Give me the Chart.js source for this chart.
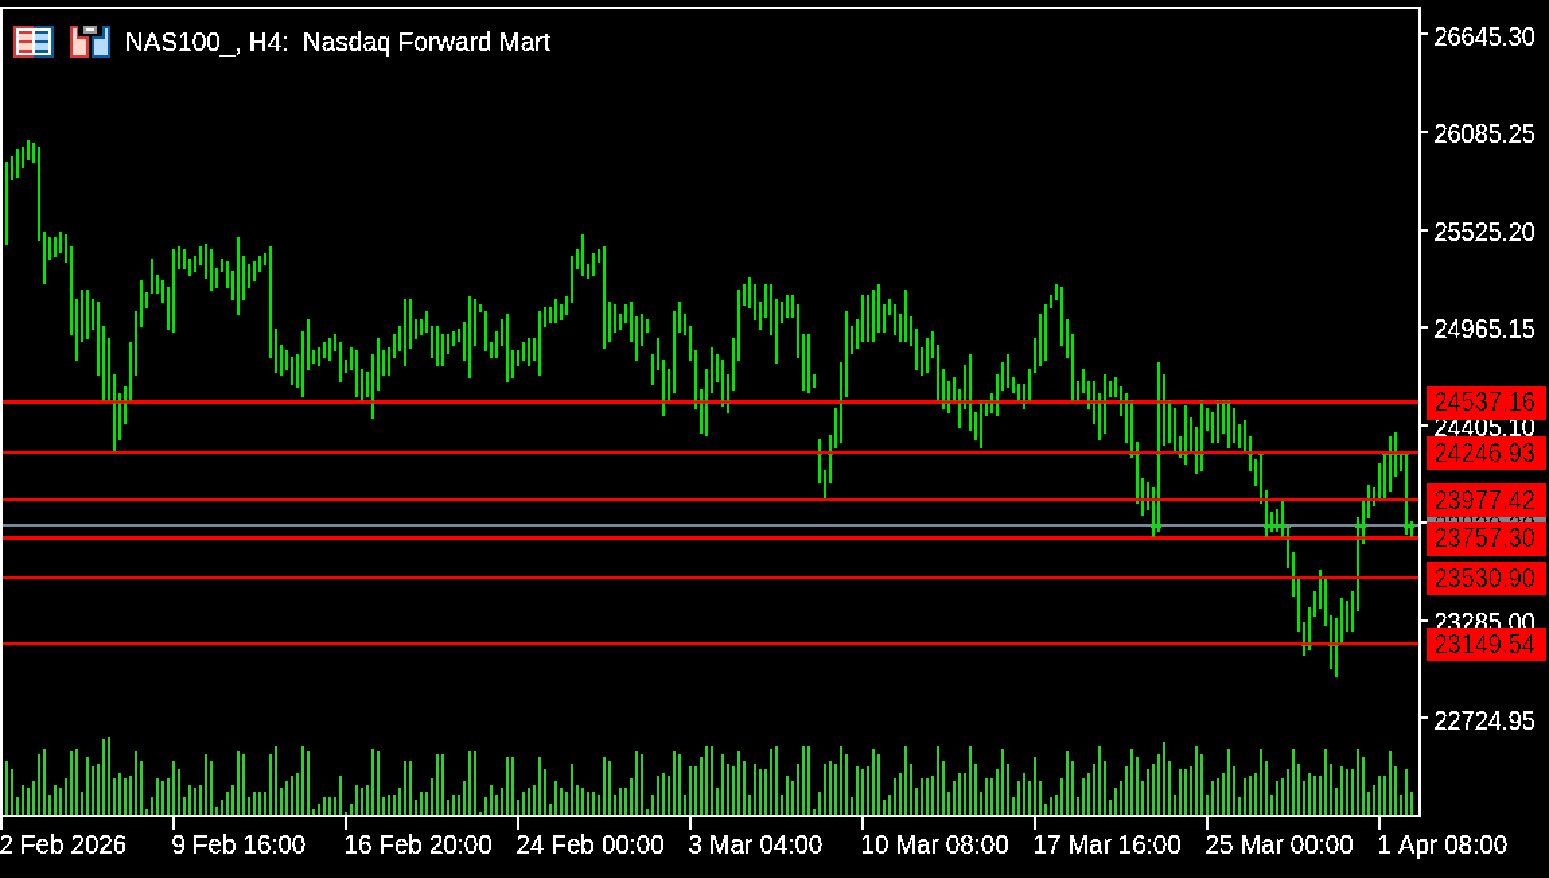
<!DOCTYPE html>
<html lang="en">

<head>
    <meta charset="UTF-8">
    <title>NAS100_, H4: Nasdaq Forward Mart</title>
    <script src="https://cdn.jsdelivr.net/npm/chart.js@4"></script>
    <style>
        body { margin: 0; background: #000; overflow: hidden; }
    </style>
</head>

<body>

    <!-- the reference is a small terminal screenshot blown up, so draw small and scale up without smoothing -->
    <canvas id="chart" width="1151" height="652"
        style="width:1549px;height:878px;image-rendering:pixelated"></canvas>

    <script>
        const titleText = 'NAS100_, H4:  Nasdaq Forward Mart';

        const barHigh = [
            25913, 25947, 25982, 25999, 26039, 26022, 25999, 25511, 25477, 25477, 25511, 25494,
            25425, 25127, 25179, 25179, 25127, 25110, 24972, 24898, 24691, 24588, 24622, 24881,
            25058, 25230, 25162, 25357, 25265, 25230, 25196, 25408, 25425, 25408, 25357, 25374,
            25425, 25443, 25408, 25305, 25357, 25339, 25288, 25477, 25374, 25322, 25339, 25374,
            25391, 25425, 24955, 24863, 24829, 24794, 24812, 24938, 25007, 24829, 24846, 24881,
            24898, 24921, 24881, 24777, 24846, 24829,
            24726, 24708, 24812, 24898, 24829, 24846, 24921, 24972, 25127, 25127, 25007, 25007,
            25058, 24972, 24972, 24921, 24921, 24938, 24955, 24990, 25144, 25127, 25093, 25058,
            24881, 24938, 25007, 25041, 24829, 24829, 24881, 24898, 24898, 25058, 25075, 25075,
            25127, 25093, 25144, 25374, 25408, 25494, 25322, 25391, 25408, 25425, 25110, 25093,
            25041, 25093, 25110, 25024, 25041, 25007, 24812, 24898, 24777, 24726, 25058, 25110,
            25041, 24972, 24829, 24605, 24726, 24846, 24812,
            24777, 24691, 24898, 25179, 25213, 25248, 25213, 25110, 25213, 25213, 25127, 25110,
            25145, 25145, 25093, 24921, 24921, 24691, 24324, 24146, 24342, 24496, 24760, 25059,
            24972, 25007, 25145, 25145, 25179, 25213, 25093, 25127, 25093, 25041, 25179, 25024,
            24955, 24846, 24898, 24938, 24863, 24726, 24657, 24674, 24605, 24743, 24812, 24479,
            24548, 24548, 24588, 24691, 24760, 24812, 24674, 24640, 24640, 24726, 24898, 25041,
            25093, 25145, 25213, 25196, 25007, 24921, 24657,
            24726, 24657, 24657, 24588, 24691, 24657, 24674, 24622, 24588, 24548, 24307, 24095,
            24077, 24043, 24760, 24691, 24548, 24496, 24341, 24513, 24445, 24393, 24548, 24496,
            24479, 24548, 24548, 24548, 24496, 24410, 24427, 24341, 24204, 24238, 24026, 23905,
            23923, 23974, 23819, 23676, 23521, 23274, 23360, 23452, 23573, 23521, 23309, 23292,
            23412, 23395, 23452, 23871, 23974, 24060, 24043, 24186, 24238, 24341, 24358, 24238,
            24238, 23854
        ];

        const barLow = [
            25443, 25810, 25827, 25879, 25930, 25913, 25460, 25213, 25357, 25374, 25391, 25339,
            24921, 24777, 24881, 24898, 24955, 24691, 24548, 24548, 24255, 24324, 24410, 24548,
            24691, 24972, 25075, 25162, 25162, 25110, 24955, 24938, 25305, 25305, 25265, 25288,
            25322, 25248, 25179, 25196, 25288, 25196, 25127, 25041, 25127, 25196, 25230, 25288,
            25322, 24794, 24708, 24691, 24726, 24640, 24622, 24571, 24726, 24760, 24743, 24794,
            24777, 24829, 24657, 24708, 24726, 24571,
            24548, 24571, 24445, 24605, 24691, 24691, 24794, 24829, 24743, 24846, 24898, 24921,
            24938, 24794, 24743, 24743, 24812, 24863, 24881, 24777, 24674, 24863, 25058, 24829,
            24794, 24794, 24863, 24657, 24674, 24743, 24777, 24743, 24777, 24691, 24972, 24990,
            24990, 25007, 25041, 25110, 25305, 25265, 25248, 25265, 25339, 24846, 24881, 24938,
            24955, 24990, 24881, 24777, 24863, 24938, 24640, 24726, 24462, 24548, 24588, 24938,
            24921, 24777, 24496, 24358, 24341, 24588, 24657,
            24514, 24479, 24605, 24777, 25093, 25076, 25007, 24955, 25024, 24921, 24760, 24990,
            25024, 25024, 24795, 24605, 24588, 24623, 24078, 23986, 24078, 24273, 24307, 24571,
            24812, 24846, 24881, 24881, 24881, 24938, 24938, 25041, 24921, 24881, 24881, 24863,
            24726, 24691, 24709, 24795, 24548, 24496, 24479, 24548, 24393, 24496, 24376, 24324,
            24273, 24462, 24479, 24462, 24605, 24623, 24588, 24548, 24496, 24548, 24709, 24743,
            24777, 25076, 25127, 24863, 24795, 24548, 24548,
            24588, 24496, 24410, 24324, 24358, 24571, 24571, 24462, 24307, 24221, 23957, 23888,
            23923, 23762, 23796, 24290, 24307, 24255, 24221, 24186, 24255, 24129, 24146, 24376,
            24307, 24307, 24358, 24272, 24307, 24272, 24255, 24146, 24060, 23957, 23762, 23796,
            23796, 23762, 23590, 23429, 23223, 23085, 23120, 23309, 23360, 23257, 23011, 22959,
            23154, 23223, 23223, 23343, 23728, 23871, 23940, 23991, 23991, 24026, 24112, 24146,
            23779, 23762
        ];

        const volumes = [
            165, 138, 54, 93, 81, 102, 183, 201, 63, 93, 81, 111, 192, 201, 72, 174, 147, 156, 228, 237,
            111, 129, 111, 120, 192, 165, 18, 54, 111, 102, 111, 165, 138, 54, 93, 81, 93, 183, 165, 27,
            45, 72, 93, 192, 183, 54, 72, 72, 72, 183, 210, 81, 102, 120, 129, 210, 192, 18, 36, 54,
            54, 54, 120, 9, 36, 93, 81, 93, 201, 192, 54, 63, 63, 81, 165, 165, 45, 72, 72, 111,
            183, 183, 45, 63, 63, 102, 192, 192, 9, 54, 93, 63, 81, 174, 174, 45, 72, 81, 93, 174,
            138, 36, 102, 81, 72, 156, 93, 81, 72, 72, 63, 174, 165, 63, 81, 81, 111, 192, 183, 18,
            63, 120, 129, 120, 192, 183, 63, 147, 147, 174, 210, 210, 81, 183, 156, 147, 192, 165, 63, 156,
            138, 138, 201, 210, 63, 120, 102, 156, 210, 210, 18, 72, 156, 165, 156, 210, 183, 54, 147, 138,
            147, 201, 183, 45, 63, 111, 129, 210, 156, 81, 111, 111, 120, 210, 165, 72, 102, 129, 129, 210,
            156, 72, 111, 111, 138, 201, 156, 54, 102, 129, 102, 174, 102, 36, 54, 63, 111, 192, 165, 54,
            111, 129, 156, 210, 165, 45, 81, 102, 147, 201, 174, 102, 138, 156, 183, 219, 165, 63, 138, 138,
            147, 210, 183, 63, 102, 111, 129, 201, 147, 54, 111, 120, 129, 201, 165, 63, 102, 111, 138, 201,
            156, 102, 129, 120, 120, 201, 156, 81, 147, 138, 138, 201, 174, 72, 93, 120, 120, 192, 147, 63,
            138, 72
        ];

        const xTickBars = [-1, 31, 63, 95, 127, 159, 191, 223, 255];
        const xTickLabels = ['2 Feb 2026', '9 Feb 16:00', '16 Feb 20:00', '24 Feb 00:00', '3 Mar 04:00',
            '10 Mar 08:00', '17 Mar 16:00', '25 Mar 00:00', '1 Apr 08:00'];
        const yTicks = [26645.30, 26085.25, 25525.20, 24965.15, 24405.10, 23845.05, 23285.00, 22724.95];

        const levelPrices = [24537.16, 24246.93, 23977.42, 23757.30, 23530.90, 23149.54];
        const lastPrice = 23829.20;

        const labelFont = '21px "Liberation Sans", sans-serif';
        const barNumbers = barHigh.map((v, i) => i);
        const xMin = -1;
        const xMax = 262.5;

        function flatLine(price, color, order) {
            return {
                type: 'line',
                data: [{ x: xMin, y: price }, { x: xMax, y: price }],
                borderColor: color,
                borderWidth: 2,
                pointRadius: 0,
                yAxisID: 'y',
                order: order
            };
        }

        // terminal font is much narrower than anything installed, so squeeze the text sideways
        function narrowText(ctx, text, x, y, squeeze) {
            ctx.save();
            ctx.translate(x, y);
            ctx.scale(squeeze, 1);
            ctx.fillText(text, 0, 0);
            ctx.restore();
        }

        // frame, logo icons, title, axis labels and the price boxes on the right
        const terminalDecor = {
            id: 'terminalDecor',
            afterDraw(chart) {
                const ctx = chart.ctx;
                const area = chart.chartArea;
                const x = chart.scales.x;
                const y = chart.scales.y;

                ctx.save();
                ctx.strokeStyle = '#fff';
                ctx.lineWidth = 2;
                ctx.strokeRect(area.left, area.top, area.right - area.left, area.bottom - area.top);

                drawIcons(ctx);
                ctx.font = labelFont;
                ctx.fillStyle = '#fff';
                ctx.textAlign = 'left';
                ctx.textBaseline = 'alphabetic';
                narrowText(ctx, titleText, 93, 37.5, 0.905);

                xTickLabels.forEach((label, i) => {
                    narrowText(ctx, label, Math.max(x.getPixelForValue(xTickBars[i]) - 1.5, -1), 633.5, 0.89);
                });
                ctx.textBaseline = 'middle';
                yTicks.forEach(v => {
                    narrowText(ctx, v.toFixed(2), 1065.5, y.getPixelForValue(v) + 2.5, 0.86);
                });

                priceBox(ctx, y, lastPrice, '#778899');
                levelPrices.forEach(p => priceBox(ctx, y, p, '#ff0000'));
                ctx.restore();
                hardenEdges(ctx, chart.canvas);
            }
        };

        function priceBox(ctx, yScale, price, color) {
            const py = yScale.getPixelForValue(price);
            ctx.fillStyle = color;
            ctx.fillRect(1060, Math.round(py) - 12, 89, 25);
            // the text is punched out of the box so that it stays hard-edged black
            ctx.globalCompositeOperation = 'destination-out';
            ctx.fillStyle = '#000';
            narrowText(ctx, price.toFixed(2), 1065.5, py + 1, 0.86);
            ctx.globalCompositeOperation = 'source-over';
        }

        // no anti-aliasing in the reference: every pixel is either on or off
        function hardenEdges(ctx, canvas) {
            const img = ctx.getImageData(0, 0, canvas.width, canvas.height);
            const px = img.data;
            for (let i = 3; i < px.length; i += 4) {
                px[i] = px[i] >= 100 ? 255 : 0;
            }
            ctx.putImageData(img, 0, 0);
        }

        function drawIcons(ctx) {
            const rects = [
                ['#d8383a', 10, 19, 15, 24], ['#0a5a9c', 25, 19, 15, 24], ['#fff', 12, 21, 26, 20],
                ['#ffd8cc', 14, 23, 10, 16], ['#b4dcff', 26, 23, 10, 16],
                ['#d8383a', 14, 23, 10, 2], ['#d8383a', 14, 30, 10, 2], ['#d8383a', 14, 37, 10, 2],
                ['#0a5a9c', 26, 23, 10, 2], ['#0a5a9c', 26, 30, 10, 2], ['#0a5a9c', 26, 37, 10, 2],
                ['#d8383a', 52, 19, 6, 8], ['#d8383a', 52, 27, 14, 16], ['#ffd8cc', 54, 21, 3, 8], ['#ffd8cc', 54, 29, 10, 12],
                ['#0a5a9c', 76, 19, 6, 8], ['#0a5a9c', 68, 27, 14, 16], ['#b4dcff', 78, 21, 2, 8], ['#b4dcff', 70, 29, 10, 12],
                ['#999', 62, 19, 10, 6], ['#fff', 64, 21, 6, 2]
            ];
            rects.forEach(r => {
                ctx.fillStyle = r[0];
                ctx.fillRect(r[1], r[2], r[3], r[4]);
            });
        }

        new Chart(document.getElementById('chart'), {
            type: 'bar',
            data: {
                datasets: [
                    ...levelPrices.map(p => flatLine(p, '#ff0000', 0)),
                    {
                        data: barNumbers.map(i => ({ x: i, y: [barLow[i], barHigh[i]] })),
                        backgroundColor: '#00e600',
                        barThickness: 2,
                        grouped: false,
                        yAxisID: 'y',
                        order: 1
                    },
                    flatLine(lastPrice, '#778899', 2),
                    {
                        data: barNumbers.map(i => ({ x: i, y: volumes[i] })),
                        backgroundColor: '#32cd32',
                        barThickness: 2,
                        grouped: false,
                        yAxisID: 'yVolume',
                        order: 3
                    }
                ]
            },
            options: {
                responsive: false,
                devicePixelRatio: 1,
                animation: false,
                events: [],
                layout: { padding: { left: 1, top: 6, right: 0, bottom: 0 } },
                plugins: { legend: { display: false }, tooltip: { enabled: false } },
                scales: {
                    x: {
                        type: 'linear',
                        offset: false,
                        min: xMin,
                        max: xMax,
                        afterFit: scale => { scale.height = 46; },
                        afterBuildTicks: scale => { scale.ticks = xTickBars.map(v => ({ value: v })); },
                        grid: { offset: false, drawOnChartArea: false, color: '#fff', lineWidth: 2, tickLength: 10 },
                        border: { color: '#fff', width: 2 },
                        ticks: { display: false, autoSkip: false }
                    },
                    y: {
                        position: 'right',
                        min: 22164.1,
                        max: 26795.8,
                        afterFit: scale => { scale.width = 96; },
                        afterBuildTicks: scale => { scale.ticks = yTicks.map(v => ({ value: v })); },
                        grid: { drawOnChartArea: false, color: '#fff', lineWidth: 2, tickLength: 6 },
                        border: { color: '#fff', width: 2 },
                        ticks: { display: false, autoSkip: false }
                    },
                    yVolume: { display: false, min: 0, max: 2422 }
                }
            },
            plugins: [terminalDecor]
        });
    </script>

</body>

</html>
